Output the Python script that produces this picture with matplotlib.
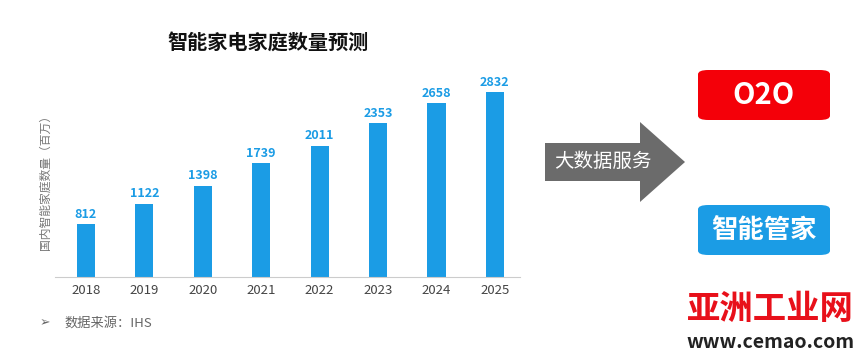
import matplotlib
matplotlib.use('Agg')
import matplotlib.pyplot as plt
from matplotlib.patches import FancyBboxPatch, Polygon

plt.rcParams['font.family'] = ['Noto Sans CJK SC', 'DejaVu Sans']

# data
years = ['2018', '2019', '2020', '2021', '2022', '2023', '2024', '2025']
households = [812, 1122, 1398, 1739, 2011, 2353, 2658, 2832]

W, H = 866, 357
blue = '#1B9CE5'

fig = plt.figure(figsize=(W / 100, H / 100), dpi=100)

def fx(px):
    return px / W

def fy(py):
    return 1 - py / H

# main bar chart
ax = fig.add_axes([fx(55), fy(277), fx(520) - fx(55), fy(68) - fy(277)])
x = range(len(years))
bars = ax.bar(x, households, width=0.31, color=blue)
for xi, v in zip(x, households):
    ax.text(xi, v + 50, str(v), ha='center', va='bottom', color=blue,
            fontsize=9, fontweight='bold')
ax.set_xlim(-0.53, 7.43)
ax.set_ylim(0, 3200)
ax.set_xticks(list(x))
ax.set_xticklabels(years, fontsize=9.5, color='#444444')
ax.tick_params(axis='x', length=0, pad=5)
ax.set_yticks([])
for s in ['top', 'right', 'left']:
    ax.spines[s].set_visible(False)
ax.spines['bottom'].set_color('#cccccc')
ax.spines['bottom'].set_linewidth(0.8)

fig.text(fx(45), fy(180), '国内智能家庭数量（百万）', rotation=90, ha='center',
         va='center', fontsize=8.5, color='#777777')

fig.text(fx(268), fy(42), '智能家电家庭数量预测', ha='center', va='center',
         fontsize=14.5, fontweight='bold', color='#111111')

fig.text(fx(40), fy(323), '➢', ha='left', va='center', fontsize=9,
         color='#666666', family=['DejaVu Sans'])
fig.text(fx(64), fy(323), '数据来源：IHS', ha='left', va='center', fontsize=9.5,
         color='#666666', style='italic')

# arrow
arrow_pts = [(545, 143), (640, 143), (640, 122), (685, 162), (640, 202),
             (640, 181), (545, 181)]
fig.add_artist(Polygon([(fx(a), fy(b)) for a, b in arrow_pts], closed=True,
                       facecolor='#6b6b6b', edgecolor='none',
                       transform=fig.transFigure))
fig.text(fx(603), fy(161), '大数据服务', ha='center', va='center',
         fontsize=14, color='white')

# boxes
def box(x0, y0, x1, y1, color, label, size):
    p = FancyBboxPatch((fx(x0), fy(y1)), fx(x1) - fx(x0), fy(y0) - fy(y1),
                       boxstyle='round,pad=0,rounding_size=0.012',
                       facecolor=color, edgecolor='none',
                       transform=fig.transFigure)
    fig.add_artist(p)
    fig.text(fx((x0 + x1) / 2), fy((y0 + y1) / 2), label, ha='center',
             va='center', fontsize=size, color='white', fontweight='bold')

box(698, 70, 830, 120, '#F40009', 'O2O', 21)
box(698, 205, 830, 255, blue, '智能管家', 19)

# watermark
fig.text(fx(770), fy(309), '亚洲工业网', ha='center', va='center',
         fontsize=24, fontweight='bold', color='#E8101A')
fig.text(fx(771), fy(343), 'www.cemao.com', ha='center', va='center',
         fontsize=14, fontweight='bold', color='#222222')

fig.savefig('out.png', dpi=100)
